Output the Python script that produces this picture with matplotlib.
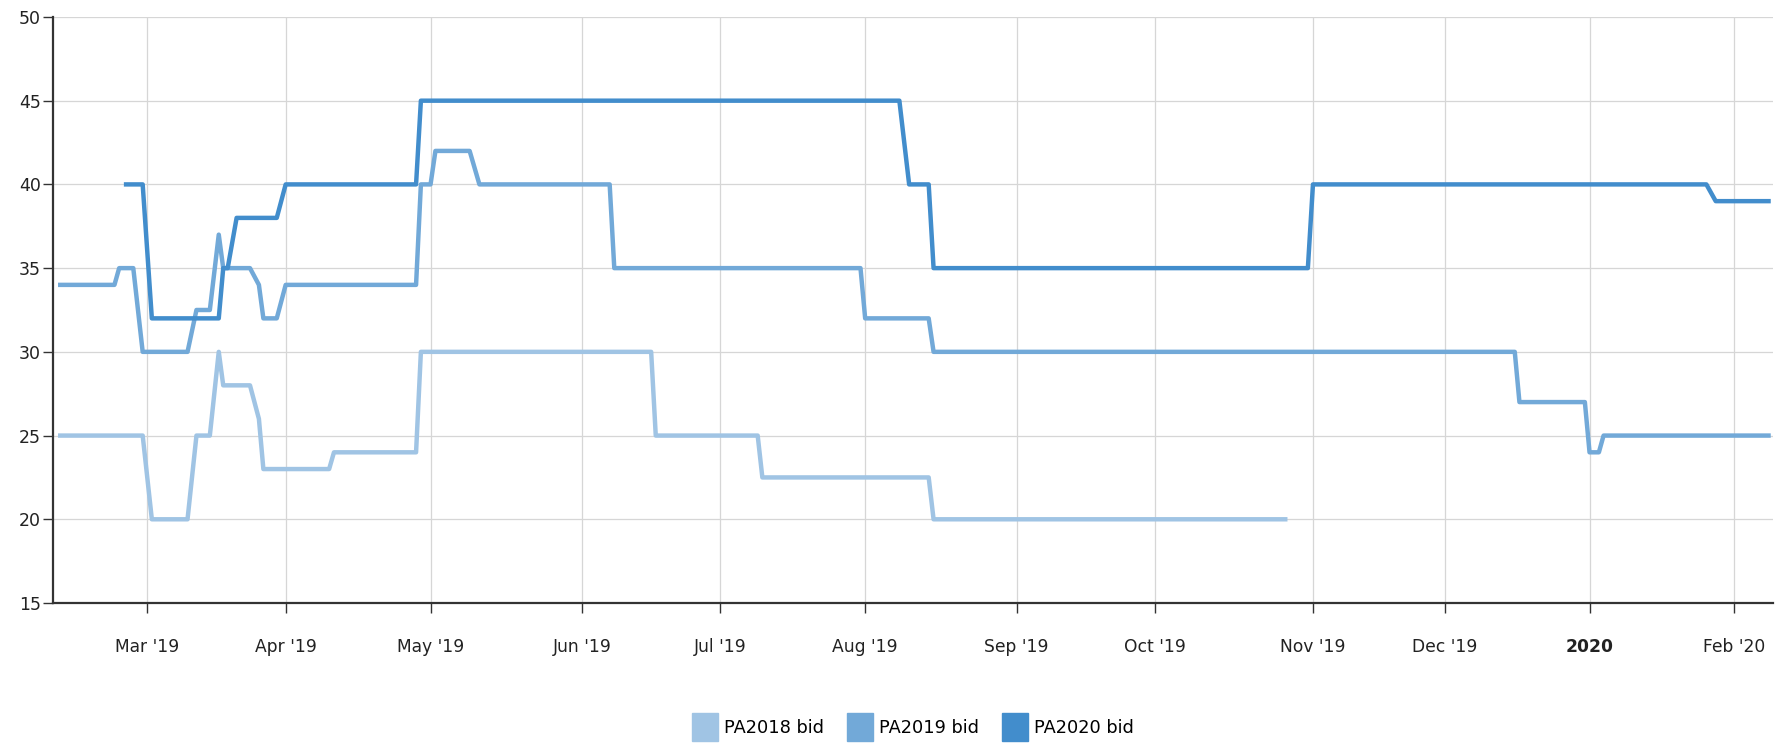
import numpy as np
import pandas as pd
import matplotlib
matplotlib.use('Agg')
import matplotlib.pyplot as plt
import matplotlib.dates as mdates
import matplotlib.patches as mpatches
from matplotlib.ticker import FixedLocator, NullLocator

# series data: vertices of each bid line (date, value)
pa2018_dates = ['2019-02-10', '2019-02-28', '2019-03-02', '2019-03-10', '2019-03-12', '2019-03-15',
                '2019-03-17', '2019-03-18', '2019-03-24', '2019-03-26', '2019-03-27', '2019-04-10',
                '2019-04-11', '2019-04-28', '2019-04-29', '2019-06-16', '2019-06-17', '2019-07-09',
                '2019-07-10', '2019-08-14', '2019-08-15', '2019-10-27']
pa2018_vals = [25, 25, 20, 20, 25, 25, 30, 28, 28, 26, 23, 23,
               24, 24, 30, 30, 25, 25, 22.5, 22.5, 20, 20]

pa2019_dates = ['2019-02-10', '2019-02-22', '2019-02-23', '2019-02-26', '2019-02-28', '2019-03-10',
                '2019-03-12', '2019-03-15', '2019-03-17', '2019-03-18', '2019-03-24', '2019-03-26',
                '2019-03-27', '2019-03-30', '2019-04-01', '2019-04-28', '2019-04-29', '2019-05-01',
                '2019-05-02', '2019-05-09', '2019-05-11', '2019-06-07', '2019-06-08', '2019-07-31',
                '2019-08-01', '2019-08-14', '2019-08-15', '2019-12-16', '2019-12-17', '2019-12-31',
                '2020-01-01', '2020-01-03', '2020-01-04', '2020-02-09']
pa2019_vals = [34, 34, 35, 35, 30, 30, 32.5, 32.5, 37, 35, 35, 34,
               32, 32, 34, 34, 40, 40, 42, 42, 40, 40, 35, 35,
               32, 32, 30, 30, 27, 27, 24, 24, 25, 25]

pa2020_dates = ['2019-02-24', '2019-02-28', '2019-03-02', '2019-03-17', '2019-03-18', '2019-03-19',
                '2019-03-21', '2019-03-30', '2019-04-01', '2019-04-28', '2019-04-29', '2019-08-08',
                '2019-08-10', '2019-08-14', '2019-08-15', '2019-10-31', '2019-11-01', '2020-01-26',
                '2020-01-28', '2020-02-09']
pa2020_vals = [40, 40, 32, 32, 35, 35, 38, 38, 40, 40, 45, 45,
               40, 40, 35, 35, 40, 40, 39, 39]

series_labels = ['PA2018 bid', 'PA2019 bid', 'PA2020 bid']
series_colors = ['#a0c4e4', '#72a9d8', '#428dcc']

# ordinal time axis: number of data points per month (Feb 2019 .. Feb 2020)
points_per_month = [20, 21, 22, 23, 21, 22, 23, 21, 24, 20, 22, 22, 20]
tick_labels = ["Mar '19", "Apr '19", "May '19", "Jun '19", "Jul '19", "Aug '19",
               "Sep '19", "Oct '19", "Nov '19", "Dec '19", "2020", "Feb '20"]

month_starts = pd.date_range('2019-02-01', '2020-03-01', freq='MS')
anchor_x = mdates.date2num(month_starts)
anchor_idx = np.concatenate([[0], np.cumsum(points_per_month)]).astype(float)


def _interp_ext(x, xp, fp):
    x = np.asarray(x, dtype=float)
    y = np.interp(x, xp, fp)
    sl = (fp[1] - fp[0]) / (xp[1] - xp[0])
    sr = (fp[-1] - fp[-2]) / (xp[-1] - xp[-2])
    y = np.where(x < xp[0], fp[0] + (x - xp[0]) * sl, y)
    y = np.where(x > xp[-1], fp[-1] + (x - xp[-1]) * sr, y)
    return y


def forward(x):
    return _interp_ext(x, anchor_x, anchor_idx)


def inverse(y):
    return _interp_ext(y, anchor_idx, anchor_x)


def to_num(dates):
    return mdates.date2num(pd.to_datetime(dates))


fig = plt.figure(figsize=(17.83, 7.44), dpi=100)
ax = fig.add_axes([0.0299, 0.1895, 0.9645, 0.7877])

all_series = [(pa2018_dates, pa2018_vals), (pa2019_dates, pa2019_vals), (pa2020_dates, pa2020_vals)]
for (d, v), c, lab in zip(all_series, series_colors, series_labels):
    ax.plot(to_num(d), v, color=c, lw=3.2, label=lab, solid_joinstyle='round',
            solid_capstyle='butt', zorder=3)

ax.set_xscale('function', functions=(forward, inverse))
ax.set_xlim(to_num(['2019-02-09'])[0], to_num(['2020-02-09 12:00'])[0])
ax.set_ylim(15, 50)

ax.xaxis.set_major_locator(FixedLocator(anchor_x[1:13]))
ax.xaxis.set_minor_locator(NullLocator())
ax.set_xticks(anchor_x[1:13], tick_labels)
ax.set_yticks(np.arange(15, 51, 5))

for lbl in ax.get_xticklabels():
    if lbl.get_text() == '2020':
        lbl.set_fontweight('bold')

ax.grid(True, color='#d6d6d6', lw=0.9, zorder=0)
for s in ['top', 'right']:
    ax.spines[s].set_visible(False)
for s in ['left', 'bottom']:
    ax.spines[s].set_color('#333333')
    ax.spines[s].set_linewidth(1.6)

ax.tick_params(axis='x', length=7, width=1.0, color='#333333', pad=18, labelsize=12.3, labelcolor='#222222')
ax.tick_params(axis='y', length=7, width=1.0, color='#333333', pad=2, labelsize=12.5, labelcolor='#222222')

handles = [mpatches.Patch(color=c, label=l) for c, l in zip(series_colors, series_labels)]
fig.legend(handles=handles, loc='center', bbox_to_anchor=(0.512, 1 - 727 / 744), ncol=3,
           frameon=False, fontsize=12.8, handlelength=1.46, handleheight=2.0,
           handletextpad=0.34, columnspacing=1.3, borderpad=0.0)

fig.savefig('out.png', dpi=100)
plt.close(fig)
